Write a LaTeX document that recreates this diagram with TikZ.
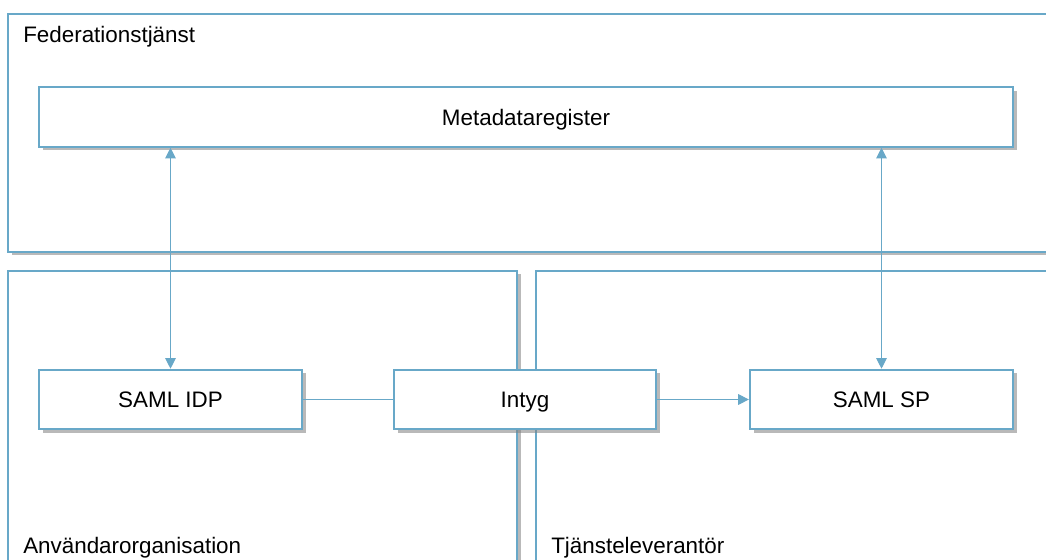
\documentclass[tikz,border=0pt]{standalone}
\usepackage{fontspec}
\setmainfont{Liberation Sans}
\usetikzlibrary{positioning}
\usetikzlibrary{arrows.meta}
\usetikzlibrary{shadows}

\definecolor{boxblue}{RGB}{104,168,200}

\tikzset{
  boxshadow/.style={drop shadow={shadow xshift=3pt, shadow yshift=-2.5pt, opacity=0.55, fill=black!50}},
  area/.style={draw=boxblue, line width=1.7pt, fill=white, boxshadow, minimum width=#1, minimum height=231.75pt},
  part/.style={draw=boxblue, line width=1.7pt, fill=white, boxshadow, minimum width=#1, minimum height=44.5pt,
    text height=12pt, text depth=0pt},
  tag/.style={anchor=base west, inner sep=0pt},
  link/.style={draw=boxblue, line width=0.8pt},
  tip/.style={-{Triangle[width=8pt,length=8pt]}},
  tips/.style={{Triangle[width=8pt,length=8pt]}-{Triangle[width=8pt,length=8pt]}}
}

\begin{document}
\begin{tikzpicture}[x=0.75pt, y=-0.75pt, font=\fontsize{16.8}{20}\selectfont]
  \useasboundingbox (0,0) rectangle (1046,560);

  % the three areas
  \node[area=789pt, minimum height=178.5pt] (fed) at (534,133) {};
  \node[area=381.75pt] (anv) at (262.5,425.5) {};
  \node[area=393pt] (tja) at (798,425.5) {};

  \node[tag] (fedtxt) at (23,43) {Federationstjänst};
  \node[tag] (anvtxt) at (23,553) {Användarorganisation};
  \node[tag] (tjatxt) at (551,553) {Tjänsteleverantör};

  % components
  \node[part=730.5pt] (meta) at (526,117) {Metadataregister};
  \node[part=197.25pt] (idp) at (170.5,399.5) {SAML IDP};
  \node[part=196.5pt] (intyg) at (525,399.5) {Intyg};
  \node[part=197.25pt] (sp) at (881.5,399.5) {SAML SP};

  \draw[link, tips] (idp.north) -- (idp.north |- meta.south);
  \draw[link, tips] (sp.north) -- (sp.north |- meta.south);
  \draw[link] (idp) -- (intyg);
  \draw[link, tip] (intyg) -- (sp);
\end{tikzpicture}
\end{document}
